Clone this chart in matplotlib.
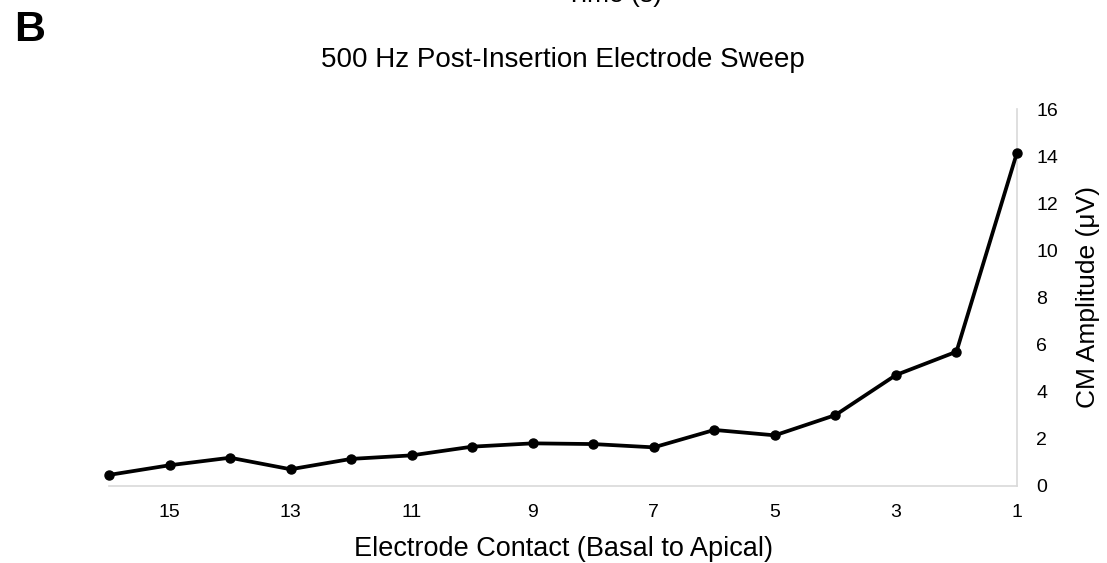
import matplotlib
matplotlib.use("Agg")
import matplotlib.pyplot as plt

plt.rcParams['font.family'] = ['Liberation Sans', 'DejaVu Sans']

electrodes = [16, 15, 14, 13, 12, 11, 10, 9, 8, 7, 6, 5, 4, 3, 2, 1]
amplitude = [0.47, 0.88, 1.20, 0.71, 1.15, 1.30, 1.67, 1.81, 1.78, 1.64,
             2.38, 2.15, 3.01, 4.71, 5.70, 14.15]
x_ticks = [15, 13, 11, 9, 7, 5, 3, 1]
y_ticks = [0, 2, 4, 6, 8, 10, 12, 14, 16]

title = "500 Hz Post-Insertion Electrode Sweep"
xlabel = "Electrode Contact (Basal to Apical)"
ylabel = "CM Amplitude (\u03bcV)"

fig = plt.figure(figsize=(11.07, 5.63), dpi=100)
ax = fig.add_axes([109/1107, 1-486/563, (1017-109)/1107, (486-109)/563])

ax.plot(electrodes, amplitude, color='black', linewidth=2.7,
        marker='o', markersize=6.5, clip_on=False, zorder=3)

ax.set_xlim(16, 1)
ax.set_ylim(0, 16)
ax.set_xticks(x_ticks)
ax.set_xticklabels([str(v) for v in x_ticks])
ax.set_yticks(y_ticks)
ax.yaxis.tick_right()
ax.yaxis.set_label_position('right')
ax.tick_params(axis='both', length=0, labelsize=14, colors='#000000')
ax.tick_params(axis='x', pad=13)
ax.tick_params(axis='y', pad=14)

for s in ['top', 'left']:
    ax.spines[s].set_visible(False)
for s in ['bottom', 'right']:
    ax.spines[s].set_color('#d9d9d9')
    ax.spines[s].set_linewidth(1.2)

ax.set_xlabel(xlabel, fontsize=19.5, labelpad=11)
ax.set_ylabel(ylabel, fontsize=19, labelpad=13)
ax.set_title(title, fontsize=20, pad=30)

fig.text(14/1107, 1-41/563, "B", fontsize=31, fontweight='bold', ha='left', va='baseline')
fig.text(614/1107, 1-2/563, "Time (s)", fontsize=19, ha='center', va='baseline')

fig.savefig("out.png", dpi=100)
